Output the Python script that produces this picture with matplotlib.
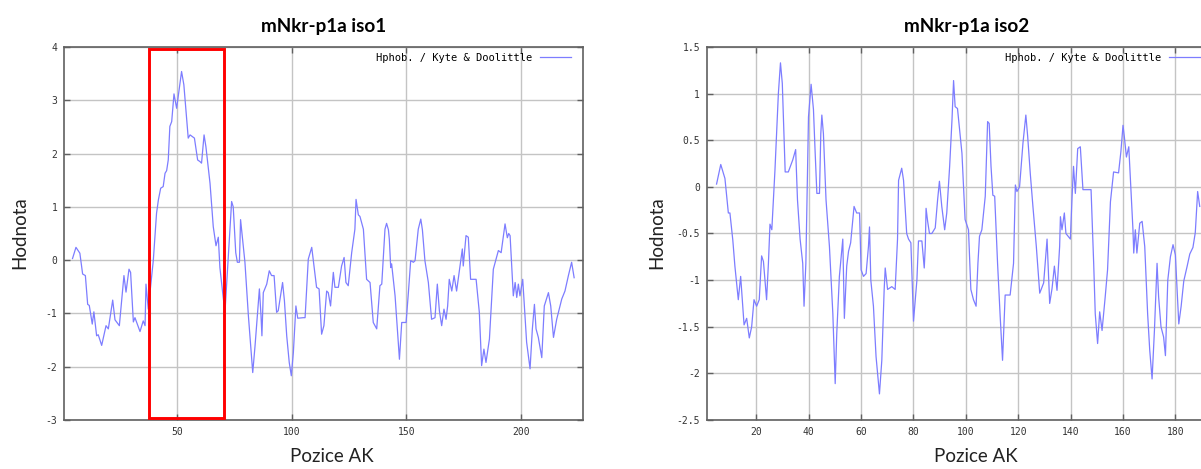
import matplotlib
matplotlib.use("Agg")
import matplotlib.pyplot as plt
from matplotlib.patches import Rectangle
from matplotlib.ticker import FuncFormatter

# Kyte & Doolittle hydrophobicity profile, isoform 1
iso1_pos = [4.6, 6.1, 7.8, 9.0, 10.2, 11.2, 11.9, 13.2, 13.9, 15.1, 15.8, 17.3, 19.2, 20.2,
            22.1, 23.1, 25.0, 27.0, 27.9, 29.2, 29.9, 31.1, 31.8, 34.0, 35.4, 36.2, 36.6,
            37.6, 39.8, 41.2, 42.0, 43.0, 44.1, 44.9, 45.6, 46.3, 47.0, 47.8, 48.8, 49.95,
            51.1, 52.1, 53.1, 55.0, 55.8, 57.7, 59.1, 60.1, 60.8, 61.9, 62.7, 64.5, 65.9,
            67.1, 68.1, 68.8, 70.0, 71.0, 73.9, 74.6, 75.7, 76.4, 77.3, 77.8, 79.7, 81.2,
            83.1, 84.1, 86.0, 86.7, 87.1, 87.7, 89.2, 90.3, 91.3, 92.4, 93.5, 94.2, 96.1,
            96.9, 97.9, 99.0, 99.9, 100.8, 101.9, 102.7, 105.1, 105.9, 107.3, 108.8, 110.9,
            112.0, 113.1, 114.1, 115.3, 116.0, 117.0, 118.2, 118.9, 120.4, 121.8, 122.9,
            123.7, 124.7, 126.2, 127.6, 128.1, 129.1, 129.8, 131.3, 132.7, 134.2, 135.6,
            137.1, 138.5, 139.3, 140.7, 141.4, 142.2, 142.6, 143.2, 143.6, 145.1, 146.1,
            147.0, 148.0, 149.9, 150.9, 151.9, 153.1, 153.8, 155.2, 156.3, 157.0, 158.1,
            159.6, 161.0, 162.5, 163.5, 164.4, 165.4, 166.4, 167.3, 168.0, 168.7, 169.8,
            170.8, 171.9, 173.4, 174.4, 174.8, 176.0, 177.0, 178.0, 180.4, 181.8, 182.8,
            183.8, 184.7, 186.2, 187.9, 190.1, 191.3, 193.0, 194.0, 194.6, 195.2, 196.6,
            197.4, 198.1, 198.8, 199.5, 200.7, 202.4, 203.9, 204.9, 205.8, 206.5, 207.5,
            209.0, 210.1, 211.9, 212.9, 214.1, 215.5, 217.7, 219.1, 220.6, 222.0, 223.1]
iso1_val = [0.03, 0.24, 0.13, -0.26, -0.29, -0.83, -0.85, -1.2, -0.97, -1.42, -1.40, -1.6,
            -1.23, -1.29, -0.75, -1.12, -1.23, -0.29, -0.6, -0.17, -0.23, -1.16, -1.08,
            -1.34, -1.14, -1.23, -0.45, -0.92, 0.0, 0.88, 1.13, 1.35, 1.38, 1.63, 1.68,
            1.88, 2.51, 2.6, 3.12, 2.85, 3.22, 3.54, 3.29, 2.29, 2.35, 2.29, 1.88, 1.85,
            1.82, 2.35, 2.13, 1.44, 0.63, 0.27, 0.43, -0.14, -0.61, -0.98, 1.1, 1.0, 0.14,
            -0.04, -0.04, 0.76, -0.04, -1.04, -2.11, -1.61, -0.54, -1.04, -1.42, -0.61,
            -0.45, -0.2, -0.29, -0.29, -0.98, -0.95, -0.42, -0.76, -1.42, -1.92, -2.17,
            -1.73, -0.86, -1.09, -1.08, -1.08, 0.02, 0.24, -0.51, -0.54, -1.39, -1.23,
            -0.58, -0.61, -0.86, -0.23, -0.51, -0.51, -0.11, 0.05, -0.42, -0.48, 0.14,
            0.58, 1.14, 0.85, 0.82, 0.58, -0.36, -0.42, -1.17, -1.29, -0.48, -0.45, 0.58,
            0.69, 0.57, 0.39, -0.14, -0.07, -0.67, -1.29, -1.86, -1.17, -1.17, -0.61,
            -0.01, -0.04, -0.01, 0.58, 0.77, 0.57, -0.01, -0.42, -1.11, -1.08, -0.45,
            -0.95, -1.23, -0.92, -1.11, -0.86, -0.36, -0.58, -0.29, -0.58, -0.11, 0.21,
            -0.11, 0.46, 0.43, -0.36, -0.36, -0.98, -1.98, -1.67, -1.92, -1.48, -0.17,
            0.18, 0.14, 0.68, 0.42, 0.5, 0.46, -0.67, -0.42, -0.7, -0.45, -0.67, -0.36,
            -1.54, -2.04, -1.29, -0.83, -1.29, -1.45, -1.83, -0.86, -0.61, -0.86, -1.45,
            -1.11, -0.73, -0.58, -0.29, -0.04, -0.33]

# isoform 2
iso2_pos = [4.8, 6.4, 8.0, 9.3, 9.9, 11.0, 11.8, 13.1, 14.0, 15.3, 16.3, 17.3, 18.2, 19.1,
            20.1, 21.1, 22.0, 22.7, 23.9, 24.6, 25.2, 25.9, 27.1, 28.4, 29.2, 29.9, 31.0,
            32.2, 33.9, 35.0, 35.7, 36.7, 37.7, 38.2, 38.9, 39.9, 40.9, 41.8, 42.4, 43.1,
            44.1, 44.6, 45.0, 45.6, 46.6, 47.9, 49.2, 50.1, 50.7, 51.7, 53.0, 53.6, 54.5,
            55.2, 56.0, 57.3, 58.3, 59.4, 60.0, 60.9, 61.9, 62.8, 63.2, 63.7, 64.7, 65.7,
            67.0, 67.9, 68.8, 69.2, 70.1, 71.7, 73.0, 73.9, 74.3, 75.5, 76.2, 77.4, 78.1,
            79.0, 80.0, 81.3, 81.9, 83.2, 84.1, 84.5, 84.8, 85.4, 86.1, 87.0, 88.3, 89.2,
            89.9, 90.8, 91.9, 92.7, 93.8, 94.7, 95.3, 95.9, 96.8, 98.5, 99.7, 101.0, 101.9,
            102.9, 103.9, 104.6, 105.2, 106.1, 107.4, 108.3, 108.9, 109.6, 110.3, 111.0,
            112.1, 113.1, 114.0, 115.0, 116.9, 118.2, 118.9, 119.5, 120.5, 121.8, 122.9,
            123.6, 124.6, 125.6, 126.9, 128.2, 129.7, 131.0, 132.0, 132.9, 133.8, 134.8,
            135.8, 136.1, 136.7, 137.6, 138.2, 139.9, 140.5, 141.1, 141.8, 142.7, 143.7,
            144.7, 147.8, 148.8, 149.4, 150.3, 151.1, 152.0, 153.2, 154.1, 155.2, 156.4,
            158.3, 159.2, 160.0, 160.5, 161.3, 162.2, 163.1, 163.8, 164.1, 164.7, 165.3,
            166.4, 167.3, 168.3, 169.4, 170.2, 171.1, 172.0, 173.0, 173.6, 174.5, 175.5,
            176.2, 177.1, 178.1, 179.1, 180.0, 181.3, 182.2, 183.2, 184.5, 185.5, 186.7,
            187.6, 188.5, 189.3]
iso2_val = [0.03, 0.24, 0.09, -0.28, -0.28, -0.57, -0.85, -1.21, -0.96, -1.48, -1.41, -1.62,
            -1.5, -1.21, -1.28, -1.21, -0.74, -0.8, -1.21, -0.82, -0.4, -0.46, 0.18, 1.0,
            1.33, 1.11, 0.16, 0.16, 0.29, 0.4, -0.14, -0.56, -0.82, -1.28, -0.82, 0.75,
            1.1, 0.83, 0.4, -0.07, -0.07, 0.57, 0.77, 0.57, -0.14, -0.64, -1.36, -2.11,
            -1.57, -0.96, -0.56, -1.41, -0.85, -0.69, -0.6, -0.21, -0.28, -0.28, -0.89,
            -0.96, -0.93, -0.64, -0.43, -1.0, -1.28, -1.82, -2.22, -1.86, -1.1, -0.87,
            -1.1, -1.07, -1.1, -0.56, 0.07, 0.2, 0.07, -0.5, -0.56, -0.6, -1.44, -1.0,
            -0.58, -0.58, -0.87, -0.64, -0.23, -0.37, -0.5, -0.5, -0.44, -0.14, 0.06,
            -0.21, -0.46, -0.28, 0.22, 0.72, 1.14, 0.86, 0.84, 0.36, -0.35, -0.46, -1.1,
            -1.21, -1.28, -0.82, -0.53, -0.46, -0.1, 0.7, 0.68, 0.22, -0.09, -0.1, -0.82,
            -1.39, -1.86, -1.16, -1.16, -0.82, 0.02, -0.05, 0.0, 0.47, 0.77, 0.54, 0.14,
            -0.21, -0.64, -1.14, -1.03, -0.56, -1.25, -1.09, -0.85, -1.11, -0.64, -0.32,
            -0.46, -0.28, -0.5, -0.56, -0.14, 0.22, -0.07, 0.41, 0.43, -0.03, -0.03,
            -0.82, -1.36, -1.68, -1.34, -1.54, -1.18, -0.89, -0.16, 0.16, 0.15, 0.38,
            0.66, 0.54, 0.32, 0.43, -0.07, -0.46, -0.71, -0.46, -0.71, -0.39, -0.37,
            -0.64, -1.36, -1.75, -2.06, -1.54, -0.82, -1.18, -1.5, -1.61, -1.81, -1.0,
            -0.75, -0.62, -0.73, -1.47, -1.28, -1.01, -0.85, -0.72, -0.65, -0.49, -0.05,
            -0.21]

iso1_xticks = [50, 100, 150, 200]
iso1_yticks = [-3, -2, -1, 0, 1, 2, 3, 4]
iso2_xticks = [20, 40, 60, 80, 100, 120, 140, 160, 180]
iso2_yticks = [-2.5, -2, -1.5, -1, -0.5, 0, 0.5, 1, 1.5]

# highlighted stretch in isoform 1
box_start, box_end = 37.8, 70.6

titles = ["mNkr-p1a iso1", "mNkr-p1a iso2"]
series_label = "Hphob. / Kyte & Doolittle"

line_col = "#7d7dff"
mono = "DejaVu Sans Mono"

fig = plt.figure(figsize=(12.01, 4.69), dpi=100)
ax1 = fig.add_axes([0.0535, 0.1045, 0.4322, 0.7953])
ax2 = fig.add_axes([0.5887, 0.1045, 0.4205, 0.7953])


def style(ax, xticks, yticks, xlim, ylim):
    ax.set_xlim(*xlim)
    ax.set_ylim(*ylim)
    ax.set_xticks(xticks)
    ax.set_yticks(yticks)
    ax.yaxis.set_major_formatter(FuncFormatter(lambda v, p: "%g" % v))
    ax.grid(True, color="#c4c4c4", lw=1.0)
    ax.set_axisbelow(True)
    ax.tick_params(direction="in", top=True, right=True, length=4, width=1,
                   color="#606060", labelsize=7, labelcolor="#333333", pad=5)
    for lab in ax.get_xticklabels() + ax.get_yticklabels():
        lab.set_family(mono)
    for s in ax.spines.values():
        s.set_color("#606060")
        s.set_linewidth(1.2)


ax1.plot(iso1_pos, iso1_val, color=line_col, lw=0.9, label=series_label)
ax2.plot(iso2_pos, iso2_val, color=line_col, lw=0.9, label=series_label)
style(ax1, iso1_xticks, iso1_yticks, (1, 227.1), (-3, 4))
style(ax2, iso2_xticks, iso2_yticks, (1.16, 194), (-2.5, 1.5))

for ax in (ax1, ax2):
    ax.legend(loc="upper right", bbox_to_anchor=(0.977, 0.985), frameon=False,
              markerfirst=False, handlelength=3.0, handletextpad=0.8,
              borderpad=0, borderaxespad=0, prop={"family": mono, "size": 7.5})

ax1.add_patch(Rectangle((box_start, -2.97), box_end - box_start, 6.93, fill=False,
                        edgecolor="#ff0000", lw=2.1, zorder=5, clip_on=False))

# titles and axis captions
for cx, t in ((324, titles[0]), (967, titles[1])):
    fig.text(cx / 1201, 1 - 32 / 469, t, ha="center", va="baseline",
             family="Lato", weight="bold", size=13.6)
for cx in (332, 976):
    fig.text(cx / 1201, 1 - 462 / 469, "Pozice AK", ha="center", va="baseline",
             family="Lato", size=13.5, color="#222222")
for cx in (20, 657):
    fig.text(cx / 1201, 1 - 233 / 469, "Hodnota", ha="center", va="center",
             rotation=90, family="Lato", size=13.5, color="#222222")

fig.savefig("out.png", dpi=100)
